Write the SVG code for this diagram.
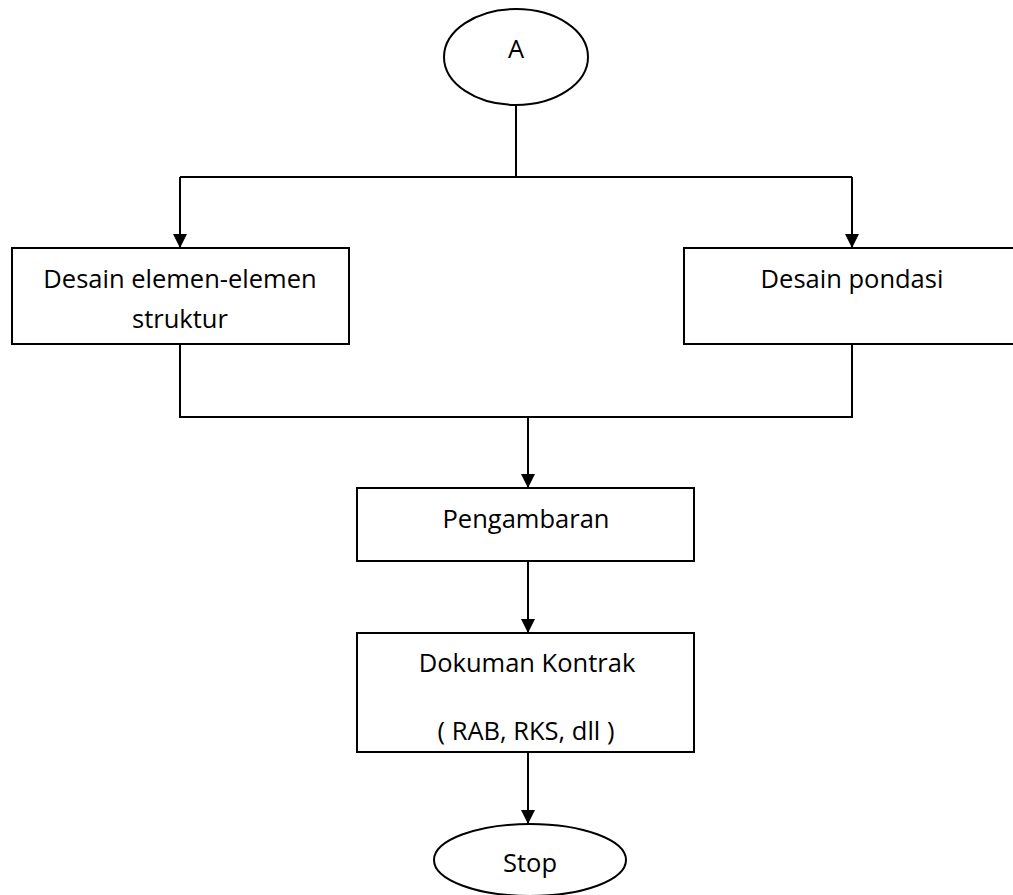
<svg xmlns="http://www.w3.org/2000/svg" width="1013" height="895" viewBox="0 0 1013 895">
<style>
.shape{fill:#fff;stroke:#000;stroke-width:2}
.line{fill:none;stroke:#000;stroke-width:2}
text{font-family:"Open Sans","Liberation Sans",Arial,sans-serif;font-size:25.5px;fill:#000;text-anchor:middle}
</style>
<defs>
<marker id="arr" markerWidth="14" markerHeight="14" refX="14" refY="7" orient="auto" markerUnits="userSpaceOnUse">
<path d="M0,0 L14,7 L0,14 Z" fill="#000"/>
</marker>
</defs>
<rect width="1013" height="895" fill="#fff"/>
<g id="connectors">
<path class="line" d="M516,105 V177"/>
<path class="line" d="M180,177 H852"/>
<path class="line" d="M180,177 V248" marker-end="url(#arr)"/>
<path class="line" d="M852,177 V248" marker-end="url(#arr)"/>
<path class="line" d="M180,344 V417 H852 V344"/>
<path class="line" d="M528,417 V488" marker-end="url(#arr)"/>
<path class="line" d="M528,561 V633" marker-end="url(#arr)"/>
<path class="line" d="M528,752 V824" marker-end="url(#arr)"/>
</g>
<g id="node-a">
<ellipse class="shape" cx="516" cy="57" rx="72" ry="48"/>
<text x="516" y="58">A</text>
</g>
<g id="node-desain-elemen">
<rect class="shape" x="12" y="248" width="337" height="96"/>
<text x="180" y="288">Desain elemen-elemen</text>
<text x="180" y="328">struktur</text>
</g>
<g id="node-desain-pondasi">
<rect class="shape" x="684" y="248" width="340" height="96"/>
<text x="852" y="288">Desain pondasi</text>
</g>
<g id="node-pengambaran">
<rect class="shape" x="357" y="488" width="337" height="73"/>
<text x="526" y="528">Pengambaran</text>
</g>
<g id="node-dokumen">
<rect class="shape" x="357" y="633" width="337" height="119"/>
<text x="527" y="672">Dokuman Kontrak</text>
<text x="526" y="740">( RAB, RKS, dll )</text>
</g>
<g id="node-stop">
<ellipse class="shape" cx="530" cy="860" rx="96" ry="36"/>
<text x="530" y="872">Stop</text>
</g>
</svg>
